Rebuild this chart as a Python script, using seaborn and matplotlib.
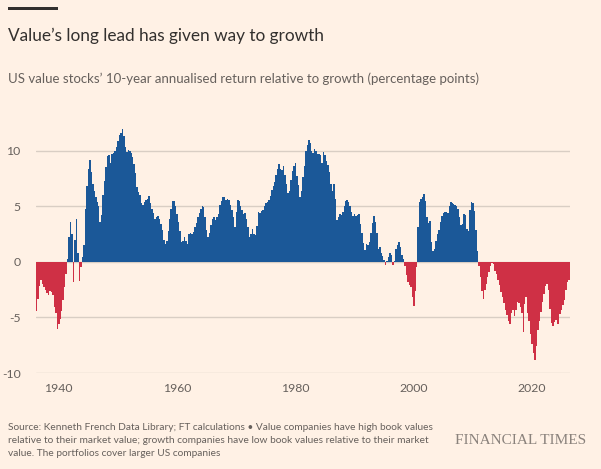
import numpy as np
import pandas as pd
import seaborn as sns
from matplotlib import pyplot as plt
from matplotlib.patches import Rectangle

# US value minus growth, 10-year annualised return (pp)
start_year = 1936.25
step = 0.25
q1930s = [-4.4, -3.3, -2.2, -1.6, -2.0, -2.3, -2.5, -2.8, -3.0, -2.6, -2.7, -3.0,
          -4.1, -4.6, -6.0]
q1940s = [-5.6, -5.1, -4.4, -3.4, -2.3, -1.1, 0.3, 2.2, 3.6, 2.5, -1.8, 2.0,
          3.9, 0.8, -1.7, -0.5, 0.4, 1.5, 4.8, 6.8, 8.4, 9.2, 8.1, 7.0,
          6.4, 5.8, 5.4, 5.0, 3.6, 4.2, 6.0, 7.3, 8.5, 9.5, 9.6, 8.9,
          9.7, 9.8, 10.0, 10.3]
q1950s = [10.9, 11.4, 11.6, 12.0, 11.3, 10.3, 9.9, 10.1, 10.0, 9.8, 9.4, 8.8,
          8.0, 6.7, 6.3, 6.0, 5.3, 5.1, 5.4, 5.6, 5.7, 5.9, 5.3, 4.8,
          4.4, 3.9, 4.0, 4.1, 3.9, 3.4, 2.9, 2.0, 1.6, 1.9, 2.8, 3.9,
          4.8, 5.5, 5.5, 5.0]
q1960s = [4.3, 3.6, 2.8, 1.8, 1.9, 2.2, 1.9, 1.6, 2.5, 2.6, 2.5, 2.7,
          3.1, 3.5, 4.0, 4.4, 4.8, 5.0, 4.9, 4.0, 2.9, 2.2, 2.6, 3.3,
          3.9, 4.0, 3.8, 4.0, 4.3, 5.1, 5.5, 5.8, 5.8, 5.6, 5.7, 5.6,
          5.1, 4.7, 4.0, 3.1]
q1970s = [4.5, 5.6, 5.5, 5.0, 4.7, 4.3, 4.4, 3.9, 3.1, 2.2, 2.5, 3.0,
          2.5, 2.4, 3.2, 4.5, 4.4, 4.6, 4.7, 5.0, 5.3, 5.4, 5.6, 5.9,
          6.5, 6.8, 7.2, 7.8, 8.4, 8.8, 8.4, 8.3, 8.6, 7.8, 7.0, 6.2,
          6.4, 7.4, 8.2, 8.6]
q1980s = [8.9, 7.7, 6.9, 5.8, 6.4, 7.6, 8.6, 10.0, 10.5, 11.0, 10.7, 10.0,
          9.8, 10.2, 10.0, 9.7, 9.7, 9.6, 8.9, 9.9, 9.6, 9.1, 8.7, 8.1,
          7.0, 6.4, 7.0, 5.7, 3.8, 4.0, 4.3, 4.2, 4.5, 5.0, 5.5, 5.6,
          5.4, 5.0, 4.5, 4.1]
q1990s = [4.3, 4.1, 4.2, 4.3, 3.4, 2.6, 1.7, 1.1, 1.6, 1.5, 1.8, 2.6,
          3.5, 4.1, 3.6, 2.6, 1.2, 1.3, 0.8, 0.5, 0.2, -0.25, 0.1, 0.4,
          0.8, 0.65, -0.3, 0.1, 1.2, 1.5, 1.8, 1.3, 0.6, 0.3, -0.4, -1.2,
          -1.8, -2.1, -2.3, -3.2]
q2000s = [-4.0, -2.6, -0.5, 3.1, 5.4, 5.7, 5.8, 6.1, 5.5, 4.0, 3.5, 3.7,
          1.8, 1.0, 1.2, 1.9, 2.5, 2.9, 3.6, 4.1, 4.4, 4.5, 4.5, 4.4,
          5.0, 5.4, 5.3, 5.2, 5.1, 5.0, 4.8, 4.0, 3.3, 3.4, 4.3, 4.2,
          3.0, 2.8, 4.7, 5.4]
q2010s = [5.3, 4.6, 2.9, 1.0, -0.4, -1.4, -2.6, -3.3, -2.5, -2.0, -1.4, -0.9,
          -0.4, -0.1, -0.2, -0.8, -1.1, -1.6, -2.1, -2.7, -3.2, -3.7, -4.3, -4.8,
          -5.3, -5.6, -4.6, -4.3, -4.9, -4.3, -3.6, -3.7, -4.1, -4.6, -6.3, -3.8,
          -3.2, -4.6, -5.3, -6.5]
q2020s = [-7.4, -8.2, -8.8, -7.6, -6.1, -5.3, -4.5, -3.6, -2.9, -2.2, -2.0, -2.5,
          -4.2, -5.5, -5.8, -5.4, -5.2, -5.6, -5.6, -4.7, -4.3, -3.9, -3.4, -2.5,
          -1.8, -1.6]

x_ticks = [1940, 1960, 1980, 2000, 2020]
y_ticks = [-10, -5, 0, 5, 10]

BG = '#fff1e5'
BLUE = '#1b5898'
RED = '#cf3045'
GRID = '#d9cec4'
DARK = '#33302e'
GREY = '#66605c'

values = q1930s + q1940s + q1950s + q1960s + q1970s + q1980s + q1990s + q2000s + q2010s + q2020s
data = pd.DataFrame({'year': start_year + step * np.arange(len(values)), 'value': values})
data['side'] = np.where(data['value'] >= 0, 'value', 'growth')

sns.set_style('white', {'axes.facecolor': BG, 'figure.facecolor': BG})
plt.rcParams['font.family'] = ['Lato', 'DejaVu Sans']
plt.rcParams['axes.unicode_minus'] = False

fig = plt.figure(figsize=(6.01, 4.69), dpi=100)
ax = fig.add_axes([36 / 601, 1 - 373 / 469, 534 / 601, 250 / 469])

sns.barplot(data=data, x='year', y='value', hue='side', palette={'value': BLUE, 'growth': RED},
            native_scale=True, dodge=False, width=1.0, errorbar=None, saturation=1,
            linewidth=0, legend=False, ax=ax)

ax.set_xlim(1936.15, 2026.4)
ax.set_ylim(-10, 12.5)
ax.set_xticks(x_ticks)
ax.set_xticklabels([str(t) for t in x_ticks])
ax.set_yticks(y_ticks)
ax.set_yticklabels([str(t) for t in y_ticks])
ax.set_xlabel('')
ax.set_ylabel('')
ax.yaxis.grid(True, color=GRID, lw=1)
ax.xaxis.grid(False)
ax.set_axisbelow(True)
for s in ax.spines.values():
    s.set_visible(False)
ax.tick_params(axis='y', length=0, pad=11, labelsize=8.8, labelcolor=GREY)
ax.tick_params(axis='x', length=4.5, width=1, color='#c4b9b0', direction='out',
               pad=3, labelsize=8.8, labelcolor=GREY)

fig.patches.append(Rectangle((7.7 / 601, 1 - 10.5 / 469), 50 / 601, 3.5 / 469,
                             transform=fig.transFigure, color=DARK, lw=0))
fig.text(7.7 / 601, 1 - 41.4 / 469, 'Value\u2019s long lead has given way to growth',
         fontsize=12.4, color=DARK, va='baseline')
fig.text(7.7 / 601, 1 - 83.0 / 469,
         'US value stocks\u2019 10-year annualised return relative to growth (percentage points)',
         fontsize=9.5, color=GREY, va='baseline')

source = ['Source: Kenneth French Data Library; FT calculations \u2022 Value companies have high book values',
          'relative to their market value; growth companies have low book values relative to their market',
          'value. The portfolios cover larger US companies']
for i, line in enumerate(source):
    fig.text(7.7 / 601, 1 - (427.7 + 12.8 * i) / 469, line, fontsize=7.25, color=GREY, va='center')
fig.text(586 / 601, 1 - 440.7 / 469, 'FINANCIAL TIMES', family='Liberation Serif',
         fontsize=11, color='#8a827c', ha='right', va='center')

fig.savefig('out.png', dpi=100, facecolor=BG)
